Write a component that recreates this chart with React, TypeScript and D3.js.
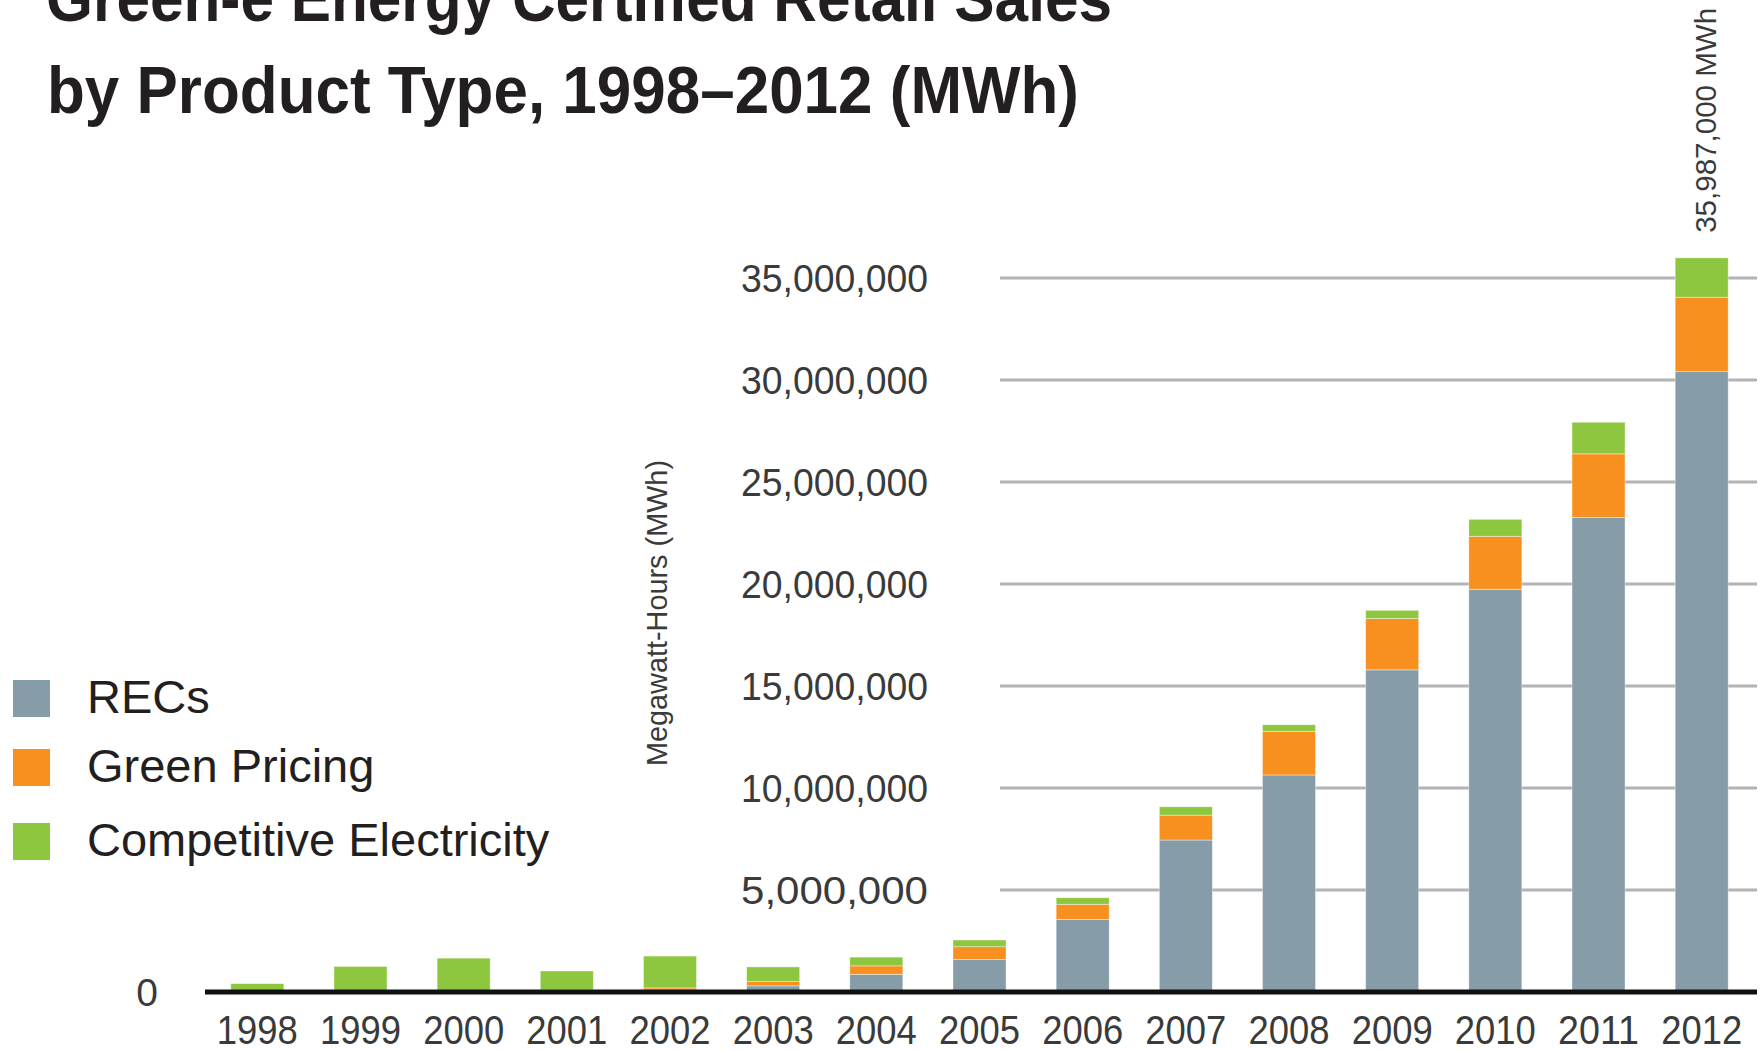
import React, { useEffect, useRef } from 'react';
import * as d3 from 'd3';

const years = ['1998', '1999', '2000', '2001', '2002', '2003', '2004', '2005', '2006', '2007', '2008', '2009', '2010', '2011', '2012'];
const recs = [0, 0, 0, 0, 100000, 300000, 870000, 1590000, 3560000, 7450000, 10640000, 15790000, 19740000, 23260000, 30410000];
const greenPricing = [0, 0, 0, 100000, 100000, 210000, 410000, 630000, 740000, 1220000, 2140000, 2520000, 2600000, 3120000, 3650000];
const competitive = [410000, 1250000, 1660000, 930000, 1560000, 720000, 430000, 330000, 320000, 410000, 320000, 400000, 830000, 1550000, 1927000];
const yTicks = [5000000, 10000000, 15000000, 20000000, 25000000, 30000000, 35000000];
const seriesNames = ['RECs', 'Green Pricing', 'Competitive Electricity'];
const seriesColors = ['#869ca8', '#f7901e', '#8dc63f'];
const topLabel = '35,987,000 MWh';

const W = 1763;
const H = 1051;

const App: React.FC = () => {
  const svgRef = useRef<SVGSVGElement>(null);

  useEffect(() => {
    if (!svgRef.current) return;
    const svg = d3.select(svgRef.current);
    svg.selectAll('*').remove();

    const x = d3.scaleBand<string>().domain(years).range([205, 1754]).paddingInner(0.486).paddingOuter(0.25);
    const y = d3.scaleLinear().domain([0, 35000000]).range([992, 278]);

    // title
    const title = svg.append('g').attr('fill', '#231f20').attr('font-family', 'Liberation Sans, Arial, sans-serif').attr('font-weight', 'bold');
    title.append('text').attr('x', 46).attr('y', 21).attr('font-size', 66).attr('textLength', 1066).attr('lengthAdjust', 'spacingAndGlyphs')
      .text('Green-e Energy Certified Retail Sales');
    title.append('text').attr('x', 47).attr('y', 113).attr('font-size', 66).attr('textLength', 1032).attr('lengthAdjust', 'spacingAndGlyphs')
      .text('by Product Type, 1998–2012 (MWh)');

    // gridlines
    svg.append('g').selectAll('line').data(yTicks).join('line')
      .attr('x1', 1000).attr('x2', 1757)
      .attr('y1', d => y(d)).attr('y2', d => y(d))
      .attr('stroke', '#b1b3b6').attr('stroke-width', 3);

    // y tick labels
    const fmt = d3.format(',');
    svg.append('g').selectAll('text').data(yTicks).join('text')
      .attr('x', 928).attr('y', d => y(d)).attr('dy', '0.36em')
      .attr('text-anchor', 'end').attr('font-family', 'Liberation Sans, Arial, sans-serif')
      .attr('font-size', 39).attr('fill', '#3a3a3a')
      .attr('textLength', 187).attr('lengthAdjust', 'spacingAndGlyphs')
      .text(d => fmt(d));
    svg.append('text').attr('x', 158).attr('y', y(0)).attr('dy', '0.36em')
      .attr('text-anchor', 'end').attr('font-family', 'Liberation Sans, Arial, sans-serif')
      .attr('font-size', 39).attr('fill', '#3a3a3a').text('0');

    // stacked bars
    const rows = years.map((yr, i) => ({ year: yr, recs: recs[i], gp: greenPricing[i], ce: competitive[i] }));
    const stack = d3.stack<any>().keys(['recs', 'gp', 'ce'])(rows);
    svg.append('g').selectAll('g').data(stack).join('g')
      .attr('fill', (_, i) => seriesColors[i])
      .selectAll('rect').data(d => d).join('rect')
      .attr('x', d => x(d.data.year)!)
      .attr('width', x.bandwidth())
      .attr('y', d => y(d[1]))
      .attr('height', d => y(d[0]) - y(d[1]))
      .attr('stroke', '#ffffff').attr('stroke-opacity', 0.5).attr('stroke-width', 0.8);

    // baseline
    svg.append('line').attr('x1', 205).attr('x2', 1757).attr('y1', y(0)).attr('y2', y(0))
      .attr('stroke', '#111').attr('stroke-width', 5);

    // x labels
    svg.append('g').selectAll('text').data(years).join('text')
      .attr('x', d => x(d)! + x.bandwidth() / 2).attr('y', 1044)
      .attr('text-anchor', 'middle').attr('font-family', 'Liberation Sans, Arial, sans-serif')
      .attr('font-size', 40).attr('fill', '#3a3a3a')
      .attr('textLength', 81).attr('lengthAdjust', 'spacingAndGlyphs')
      .text(d => d);

    // total label on last bar
    const last = years[years.length - 1];
    const lastTotal = recs[recs.length - 1] + greenPricing[greenPricing.length - 1] + competitive[competitive.length - 1];
    const lx = x(last)! + x.bandwidth() / 2 + 14;
    const ly = y(lastTotal) - 25;
    svg.append('text').attr('transform', `translate(${lx},${ly}) rotate(-90)`)
      .attr('font-family', 'Liberation Sans, Arial, sans-serif').attr('font-size', 29).attr('fill', '#3a3a3a')
      .attr('textLength', 225).attr('lengthAdjust', 'spacingAndGlyphs')
      .text(topLabel);

    // y axis title
    svg.append('text').attr('transform', 'translate(667,613) rotate(-90)')
      .attr('text-anchor', 'middle').attr('font-family', 'Liberation Sans, Arial, sans-serif')
      .attr('font-size', 30).attr('fill', '#3a3a3a')
      .attr('textLength', 306).attr('lengthAdjust', 'spacingAndGlyphs')
      .text('Megawatt-Hours (MWh)');

    // legend
    const legend = svg.append('g').selectAll('g').data(seriesNames).join('g')
      .attr('transform', (_, i) => `translate(13,${[680, 749, 823][i]})`);
    legend.append('rect').attr('width', 37).attr('height', 37).attr('fill', (_, i) => seriesColors[i]);
    legend.append('text').attr('x', 74).attr('y', 33)
      .attr('font-family', 'Liberation Sans, Arial, sans-serif').attr('font-size', 47).attr('fill', '#231f20')
      .text(d => d);
  }, []);

  return (
    <svg ref={svgRef} width={W} height={H} style={{ position: 'absolute', left: 0, top: 0, background: '#fff' }} />
  );
};

export default App;
